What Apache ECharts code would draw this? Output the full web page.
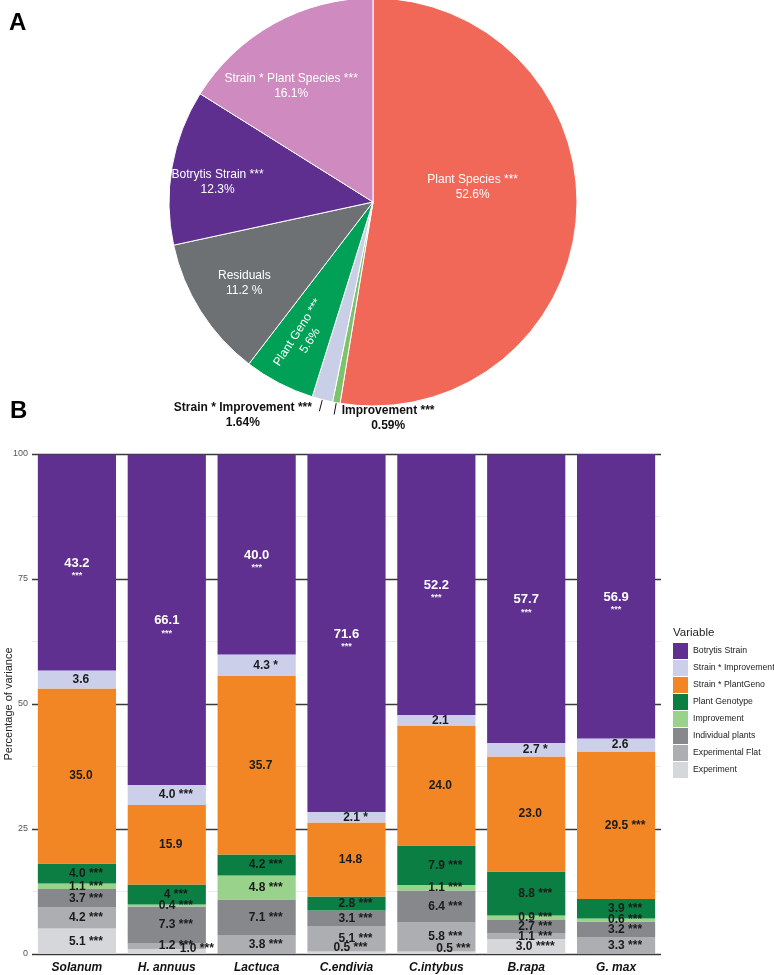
<!DOCTYPE html>
<html><head><meta charset="utf-8">
<script src="https://cdn.jsdelivr.net/npm/echarts@6/dist/echarts.min.js"></script>
<style>html,body{margin:0;padding:0;background:#fff}#c{width:774px;height:975px}</style>
</head><body><div id="c"></div>
<script>
// ---------- Panel A: pie data ----------
const pieNames  = ['Plant Species','Improvement','Strain * Improvement','Plant Geno','Residuals','Botrytis Strain','Strain * Plant Species'];
const pieValues = [52.6, 0.59, 1.64, 5.6, 11.2, 12.3, 16.1];
const pieStars  = ['***','***','***','***','','***','***'];
const pieUnits  = ['%','%','%','%',' %','%','%'];

// ---------- Panel B: stacked bar data ----------
const categories        = ['Solanum','H. annuus','Lactuca','C.endivia','C.intybus','B.rapa','G. max'];
const botrytisStrain    = [43.2, 66.1, 40.0, 71.6, 52.2, 57.7, 56.9];
const strainImprovement = [3.6, 4.0, 4.3, 2.1, 2.1, 2.7, 2.6];
const strainPlantGeno   = [35.0, 15.9, 35.7, 14.8, 24.0, 23.0, 29.5];
const plantGenotype     = [4.0, 4, 4.2, 2.8, 7.9, 8.8, 3.9];
const improvement       = [1.1, 0.4, 4.8, 0, 1.1, 0.9, 0.6];
const individualPlants  = [3.7, 7.3, 7.1, 3.1, 6.4, 2.7, 3.2];
const experimentalFlat  = [4.2, 1.2, 3.8, 5.1, 5.8, 1.1, 3.3];
const experiment        = [5.1, 1.0, 0, 0.5, 0.5, 3.0, 0];

const sigBotrytis   = ['***','***','***','***','***','***','***'];
const sigStrainImp  = ['','***','*','*','','*',''];
const sigStrainPG   = ['','','','','','','***'];
const sigGenotype   = ['***','***','***','***','***','***','***'];
const sigImprove    = ['***','***','***','','***','***','***'];
const sigIndividual = ['***','***','***','***','***','***','***'];
const sigFlat       = ['***','***','***','***','***','***','***'];
const sigExperiment = ['***','***','','***','***','****',''];

const yTicks = [0, 25, 50, 75, 100];
const legendTitle = 'Variable';
const yAxisTitle = 'Percentage of variance';

// ---------- styling ----------
const FONT = '"Liberation Sans", Arial, Helvetica, sans-serif';
const pieColors = ['#F16859','#7CC36B','#CACFE8','#00A156','#6E7174','#5F2F90','#CF8ABF'];
// label shifts for pie labels (style/layout only; rotated label shift is in its own frame)
const pieLabelShift = [[-5,-23],[105,4],[-4,4],[-46,5],[-40,25],[-52,-2],[-31,-24]];

const barDefs = [
  {name:'Experiment',           data:experiment,        sig:sigExperiment, color:'#D6D7DA'},
  {name:'Experimental Flat',    data:experimentalFlat,  sig:sigFlat,       color:'#ADAEB1'},
  {name:'Individual plants',    data:individualPlants,  sig:sigIndividual, color:'#86888B'},
  {name:'Improvement',          data:improvement,       sig:sigImprove,    color:'#98D28B'},
  {name:'Plant Genotype',       data:plantGenotype,     sig:sigGenotype,   color:'#0B7F43'},
  {name:'Strain * PlantGeno',   data:strainPlantGeno,   sig:sigStrainPG,   color:'#F38624'},
  {name:'Strain * Improvement', data:strainImprovement, sig:sigStrainImp,  color:'#CBCFEA'},
  {name:'Botrytis Strain',      data:botrytisStrain,    sig:sigBotrytis,   color:'#5F3090'}
];
// special label nudges (layout only)
const labelNudge = {
  'Experiment|H. annuus': [30, -3],
  'Experiment|C.intybus': [17, -4],
  'Experiment|C.endivia': [4, -5]
};
function fmtNum(name, cat, v){
  if (name === 'Plant Genotype' && cat === 'H. annuus') return String(v);
  return v.toFixed(1);
}

const barSeries = barDefs.map(function(d){
  const isTop = d.name === 'Botrytis Strain';
  return {
    name: d.name, type: 'bar', stack: 'total', barCategoryGap: '13%',
    itemStyle: {color: d.color},
    data: d.data.map(function(v, i){
      const cat = categories[i];
      const key = d.name + '|' + cat;
      let off;
      if (isTop) off = [0, 6];
      else if (labelNudge[key]) off = labelNudge[key];
      else off = [d.sig[i] ? 9 : 4, 0];
      return {value: v, label: {offset: off}};
    }),
    label: {
      show: true, position: 'inside',
      fontFamily: FONT, fontSize: 12, fontWeight: 'bold', color: '#1b1b1b',
      formatter: function(p){
        const v = p.value;
        if (!v) return '';
        const s = d.sig[p.dataIndex];
        const num = fmtNum(d.name, categories[p.dataIndex], v);
        if (isTop) return '{v|' + num + '}\n{s|' + s + '}';
        return s ? num + ' ' + s : num;
      },
      rich: isTop ? {
        v: {fontFamily: FONT, fontSize: 13, fontWeight: 'bold', color: '#fff', lineHeight: 15},
        s: {fontFamily: FONT, fontSize: 9, color: '#f0f0f0', lineHeight: 10}
      } : undefined
    }
  };
});

const pieSeries = {
  type: 'pie', center: [373, 202], radius: 204, startAngle: 90, clockwise: true,
  avoidLabelOverlap: false, animation: false,
  itemStyle: {borderColor: '#fff', borderWidth: 1},
  data: pieNames.map(function(n, i){
    const small = i === 1 || i === 2;
    const w = i === 2 ? 135 : 92;
    const item = {
      name: n, value: pieValues[i], itemStyle: {color: pieColors[i]},
      label: small ? {
        position: 'outside', color: '#111', fontSize: 12, fontWeight: 'bold',
        formatter: function(){
          return '{a|' + n + (pieStars[i] ? ' ' + pieStars[i] : '') + '}\n{b|' + pieValues[i] + pieUnits[i] + '}';
        },
        rich: {
          a: {fontFamily: FONT, fontSize: 12, fontWeight: 'bold', color: '#111', width: w, align: 'center', lineHeight: 15},
          b: {fontFamily: FONT, fontSize: 12, fontWeight: 'bold', color: '#111', width: w, align: 'center', lineHeight: 15}
        }
      } : {position: 'inside'},
      labelLine: small ? {show: true, length: 12, length2: 0, lineStyle: {color: '#111', width: 1}} : {show: false}
    };
    if (i === 3) item.label.rotate = 57;
    return item;
  }),
  label: {
    show: true, fontFamily: FONT, fontSize: 12, color: '#fff', lineHeight: 15, align: 'center',
    formatter: function(p){
      const i = p.dataIndex;
      return pieNames[i] + (pieStars[i] ? ' ' + pieStars[i] : '') + '\n' + pieValues[i] + pieUnits[i];
    }
  },
  labelLayout: function(params){
    const s = pieLabelShift[params.dataIndex];
    return {dx: s[0], dy: s[1]};
  },
  emphasis: {disabled: true}
};

const chart = echarts.init(document.getElementById('c'), null, {renderer: 'canvas'});
chart.setOption({
  animation: false,
  backgroundColor: '#fff',
  textStyle: {fontFamily: FONT},
  graphic: [
    {type: 'text', left: 9, top: 11, style: {text: 'A', fontSize: 24, fontWeight: 900, fontFamily: FONT, fill: '#000'}},
    {type: 'text', left: 10, top: 399, style: {text: 'B', fontSize: 24, fontWeight: 900, fontFamily: FONT, fill: '#000'}},
    {type: 'text', left: 673, top: 627, style: {text: legendTitle, fontSize: 11.5, fontFamily: FONT, fill: '#222'}}
  ],
  legend: {
    orient: 'vertical', left: 673, top: 643, padding: 0, itemWidth: 15, itemHeight: 16, itemGap: 1,
    icon: 'rect', selectedMode: false,
    data: barDefs.map(function(d){ return d.name; }).reverse(),
    textStyle: {fontFamily: FONT, fontSize: 8.7, color: '#222', padding: [0, 0, 0, 0]}
  },
  grid: {left: 32, right: 113, top: 454, bottom: 21, containLabel: false, outerBoundsMode: 'none'},
  xAxis: {
    type: 'category', data: categories,
    axisLine: {show: false}, axisTick: {show: false},
    axisLabel: {fontFamily: FONT, fontSize: 12, fontWeight: 'bold', fontStyle: 'italic', color: '#111', margin: 8}
  },
  yAxis: {
    type: 'value', min: yTicks[0], max: yTicks[yTicks.length - 1], interval: yTicks[1] - yTicks[0],
    name: yAxisTitle, nameLocation: 'middle', nameGap: 18, nameMoveOverlap: false,
    nameTextStyle: {fontFamily: FONT, fontSize: 11, color: '#222'},
    axisLine: {show: false}, axisTick: {show: false},
    axisLabel: {fontFamily: FONT, fontSize: 9, color: '#555', margin: 4},
    splitLine: {show: true, lineStyle: {color: '#3a3a3a', width: 1.3}},
    minorTick: {show: false, splitNumber: 2},
    minorSplitLine: {show: true, lineStyle: {color: '#ececec', width: 1}}
  },
  series: [pieSeries].concat(barSeries)
});
</script>
</body></html>
